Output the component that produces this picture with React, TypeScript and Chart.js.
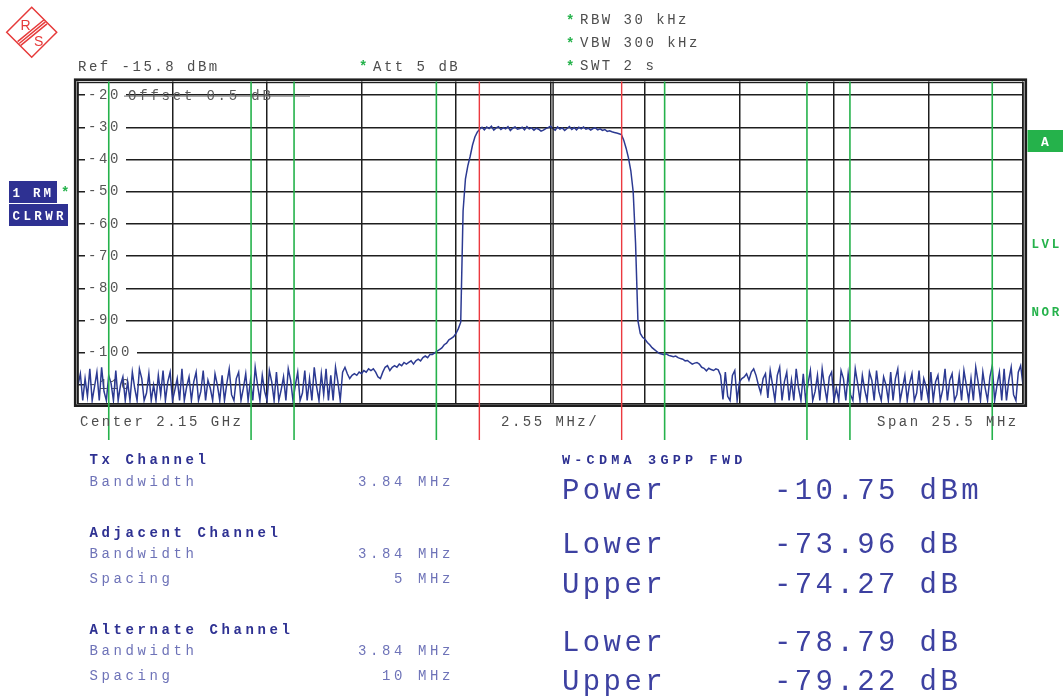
import React, { useEffect, useRef } from "react";
import { Chart, registerables } from "chart.js";

Chart.register(...registerables);

// ---- instrument settings ----
const CENTER_GHZ = 2.15;
const SPAN_MHZ = 25.5;
const REF_LEVEL_DBM = -15.8;
const RANGE_DB = 100;
const OFFSET_DB = 0.5;
const ATT_DB = 5;
const RBW_KHZ = 30;
const VBW_KHZ = 300;
const SWT_S = 2;

// ---- grid ----
const yGridLevels = [-20, -30, -40, -50, -60, -70, -80, -90, -100, -110];
const xGridOffsetsMHz = [-12.75, -10.2, -7.65, -5.1, -2.55, 0, 2.55, 5.1, 7.65, 10.2, 12.75];

// ---- channel table ----
const txBandwidthMHz = 3.84;
const adjSpacingMHz = 5;
const altSpacingMHz = 10;

// ---- results ----
const resultLabels = ["Power", "Lower", "Upper", "Lower", "Upper"];
const resultValues = ["-10.75 dBm", "-73.96 dB", "-74.27 dB", "-78.79 dB", "-79.22 dB"];

// ---- trace (dBm), 401 sweep points over the span, in five segments ----
const noiseLow = [
  -110, -106.5, -114.8, -108, -113.5, -105, -114.8, -110.5, -106, -114.8,
  -104.5, -112, -114.8, -107, -109.5, -114.8, -105.5, -114.8, -110, -107.5,
  -114.8, -109, -114.8, -106, -111, -114.8, -105, -108, -114.8, -112.5,
  -106.5, -114.8, -110, -114.8, -107, -113, -105.5, -114.8, -109, -106,
  -114.8, -111.5, -108, -114.8, -105, -114.8, -110.5, -107.5, -114.8, -109,
  -106, -114.8, -112, -105.5, -114.8, -108.5, -111, -114.8, -106.5, -110,
  -114.8, -107, -114.8, -109.5, -105, -113, -114.8, -108, -106, -114.8,
  -111, -106.5, -114.8, -108.5, -114.8, -104.5, -110, -114.8, -107, -112,
  -114.8, -105.5, -109, -114.8, -106, -114.8, -111.5, -107.5, -114.8, -105,
  -108.5, -114.8, -110, -106, -114.8, -112.5, -105.5, -114.8, -108, -114.8,
  -104.5, -110.5, -114.8, -106.5, -113, -105, -114.8, -107, -114.8, -104.5,
  -109, -114.8, -106,
];
const skirtLow = [
  -104.5, -106.5, -108, -107, -106.5, -107, -106, -106.5, -105.5, -106,
  -105, -105.5, -105, -106, -107.5, -108, -106, -104.5, -104, -105.5,
  -104.5, -104, -104.5, -103.5, -104, -103, -103.5, -103, -102.5, -103.5,
  -102.5, -102, -102.5, -101.5, -101, -101.5, -100.5, -100.5, -100, -99.5,
  -99, -98.5, -97.5, -97, -96, -95.5, -95, -94, -92.5, -90.5,
  -56, -46, -42, -39, -35.5, -33, -31.5,
];
const channelTop = [
  -30.6, -30.0, -30.8, -29.9, -30.4, -29.7, -30.9, -30.2, -29.8, -30.7,
  -30.1, -30.5, -29.8, -31.0, -30.3, -29.9, -30.6, -30.4, -30.0, -30.8,
  -29.8, -30.5, -30.2, -30.9, -30.3, -30.6, -31.2, -30.9, -30.4, -30.1,
  -29.7, -30.4, -30.9, -29.9, -30.6, -30.2, -31.0, -30.4, -29.8, -30.7,
  -30.1, -30.8, -30.0, -30.5, -29.9, -30.6, -30.3, -30.9, -30.4, -30.2,
  -30.8, -30.5, -31.0, -30.7, -31.3, -31.1, -31.4, -31.6, -31.8, -32.0,
];
const skirtHigh = [
  -32.3, -34, -36.5, -39.5, -43.5, -50, -66, -90, -94, -95.2,
  -95.8, -96.8, -97.5, -98.4, -99, -99.6, -100.2, -100.4, -100.6, -100.3,
  -100.8, -101, -101.2, -101, -101.5, -101.8, -102, -102.5, -102.4, -103,
  -103.5, -103.2, -103, -103.5, -104.5, -104.8, -105.6, -104.8, -105.2, -105.5,
  -105, -105.3, -107,
];
const noiseHigh = [
  -114.5, -106, -113.5, -114.8, -107, -105.5, -114.8, -109, -108, -107.5,
  -106.5, -108.5, -106, -105, -107, -110, -112.5, -108, -106.5, -114,
  -105.5, -110, -114.8, -107, -104.5, -114.8, -109, -106, -114.8, -108.5,
  -114.8, -105, -111, -114.8, -106.5, -114.8, -109.5, -105.5, -114.8, -112,
  -107, -114.8, -105, -110.5, -114.8, -107.5, -106, -114.8, -111, -114.8,
  -105.5, -108, -114.8, -106.5, -113, -114.8, -105, -109.5, -114.8, -107,
  -111.5, -114.8, -106, -108.5, -114.8, -105.5, -112, -114.8, -107.5, -110,
  -114.8, -106, -114.8, -108, -105, -114.8, -111, -107, -114.8, -109.5,
  -106.5, -114.8, -112.5, -105.5, -114.8, -108, -110.5, -114.8, -106, -114.8,
  -109, -107, -114.8, -111.5, -105, -114.8, -108.5, -106.5, -114.8, -113,
  -107, -114.8, -105.5, -110, -114.8, -108, -114.8, -104.5, -109, -114.8,
  -106, -111, -114.8, -107.5, -104, -114.8, -110, -106, -114.8, -105,
  -114.8, -108.5, -104.5, -113, -114.8, -106, -104, -110,
];

const MONO = '"Liberation Mono", "DejaVu Sans Mono", monospace';
const GRID = "#1e1e1e";
const GREEN = "#25b24b";
const RED = "#ec3a3f";
const TRACE = "#2c3a92";
const NAVY = "#2e3192";

const rsPlugin = {
  id: "rsDisplay",
  beforeUpdate(chart: any) {
    chart.ctx.letterSpacing = "2.6px";
  },
  beforeDraw(chart: any) {
    chart.ctx.letterSpacing = "2.6px";
  },
  afterDraw(chart: any) {
    const { ctx, chartArea: a, scales } = chart;
    const xs = scales.x;
    const ys = scales.y;
    ctx.save();
    ctx.letterSpacing = "0px";
    // center double line
    const xc = xs.getPixelForValue(0);
    ctx.strokeStyle = GRID;
    ctx.lineWidth = 1.4;
    ctx.beginPath();
    ctx.moveTo(xc + 2.6, a.top);
    ctx.lineTo(xc + 2.6, a.bottom);
    ctx.stroke();
    // offset display line near top
    const yOff = ys.getPixelForValue(-20) + 1;
    ctx.strokeStyle = "#8c8c8c";
    ctx.lineWidth = 1.2;
    ctx.beginPath();
    ctx.moveTo(124, yOff);
    ctx.lineTo(310, yOff);
    ctx.stroke();
    // frame
    ctx.strokeStyle = GRID;
    ctx.lineWidth = 1.4;
    ctx.strokeRect(a.left, a.top + 1, a.right - a.left, a.bottom - a.top - 1);
    ctx.lineWidth = 2.6;
    ctx.strokeRect(a.left - 2.8, a.top - 1.8, a.right - a.left + 5.6, a.bottom - a.top + 3.8);
    // channel limit lines
    const half = txBandwidthMHz / 2;
    const greens: number[] = [];
    [adjSpacingMHz, altSpacingMHz].forEach((s) => {
      [-1, 1].forEach((sg) => {
        greens.push(sg * s - half, sg * s + half);
      });
    });
    const drawV = (f: number, color: string, w: number) => {
      const x = xs.getPixelForValue(f);
      ctx.strokeStyle = color;
      ctx.lineWidth = w;
      ctx.beginPath();
      ctx.moveTo(x, a.top);
      ctx.lineTo(x, 440);
      ctx.stroke();
    };
    greens.forEach((f) => drawV(f, GREEN, 1.6));
    [-half, half].forEach((f) => drawV(f, RED, 1.4));
    ctx.restore();
  },
};

function Overlay() {
  const hdr = { fontSize: 14, fill: "#4d4d4d", letterSpacing: 2.5 } as const;
  const star = { fontSize: 14, fill: GREEN, fontWeight: 700 } as const;
  const head = { fontSize: 14, fill: NAVY, fontWeight: 700, letterSpacing: 3.6 } as const;
  const sub = { fontSize: 14, fill: "#6e73b8", letterSpacing: 3.6 } as const;
  const big = { fontSize: 29, fill: "#3d41a1", letterSpacing: 3.4 } as const;
  const resultBaselines = [499, 553, 593, 651, 690];
  return (
    <svg
      width={1063}
      height={696}
      style={{ position: "absolute", left: 0, top: 0, pointerEvents: "none" }}
      fontFamily={MONO}
    >
      {/* R&S logo */}
      <g stroke="#e63a3a" fill="none" strokeWidth={1.5}>
        <polygon points="31.7,7.3 56.7,32.3 31.7,57.3 6.7,32.3" />
        <line x1={47} y1={23.8} x2={20.8} y2={45.4} />
        <line x1={45.4} y1={21.9} x2={19.2} y2={43.5} />
        <line x1={43.8} y1={20} x2={17.6} y2={41.6} />
      </g>
      <text x={20.5} y={29.5} fontSize={14} fill="#e63a3a" fontFamily='"Liberation Sans", sans-serif'>R</text>
      <text x={34} y={46} fontSize={14} fill="#e63a3a" fontFamily='"Liberation Sans", sans-serif'>S</text>

      {/* header */}
      <text x={78} y={70.5} {...hdr}>{`Ref ${REF_LEVEL_DBM} dBm`}</text>
      <text x={359} y={71} {...star}>*</text>
      <text x={373} y={70.5} {...hdr}>{`Att  ${ATT_DB} dB`}</text>
      <text x={566} y={24.5} {...star}>*</text>
      <text x={580} y={24} {...hdr}>{`RBW ${RBW_KHZ} kHz`}</text>
      <text x={566} y={47.5} {...star}>*</text>
      <text x={580} y={47} {...hdr}>{`VBW ${VBW_KHZ} kHz`}</text>
      <text x={566} y={70.5} {...star}>*</text>
      <text x={580} y={70} {...hdr}>{`SWT ${SWT_S} s`}</text>
      <text x={128} y={100} fontSize={14} fill="#5a5a5a" letterSpacing={2.8}>{`Offset  ${OFFSET_DB} dB`}</text>

      {/* trace info boxes */}
      <rect x={9} y={181} width={48} height={22} fill={NAVY} />
      <text x={12.5} y={196.5} fontSize={12.5} fontWeight={700} fill="#fff" letterSpacing={2.8}>1 RM</text>
      <text x={61} y={197} {...star}>*</text>
      <rect x={9} y={204} width={59} height={22} fill={NAVY} />
      <text x={12.5} y={219.5} fontSize={12.5} fontWeight={700} fill="#fff" letterSpacing={3.4}>CLRWR</text>
      <rect x={1027.5} y={130} width={36} height={22} fill={GREEN} />
      <text x={1041} y={146} fontSize={13} fontWeight={700} fill="#fff">A</text>
      <text x={1031.5} y={248} fontSize={12.5} fontWeight={700} fill={GREEN} letterSpacing={2.6}>LVL</text>
      <text x={1031.5} y={316} fontSize={12.5} fontWeight={700} fill={GREEN} letterSpacing={2.6}>NOR</text>

      {/* x axis annotations */}
      <text x={80} y={425.5} {...hdr}>{`Center ${CENTER_GHZ} GHz`}</text>
      <text x={501} y={425.5} {...hdr}>{`${(SPAN_MHZ / 10).toFixed(2)} MHz/`}</text>
      <text x={877} y={425.5} {...hdr}>{`Span ${SPAN_MHZ} MHz`}</text>

      {/* channel table */}
      <text x={89.5} y={463.5} {...head}>Tx Channel</text>
      <text x={89.5} y={486} {...sub}>Bandwidth</text>
      <text x={454} y={486} textAnchor="end" {...sub}>{`${txBandwidthMHz} MHz`}</text>

      <text x={89.5} y={537} {...head}>Adjacent Channel</text>
      <text x={89.5} y={558} {...sub}>Bandwidth</text>
      <text x={454} y={558} textAnchor="end" {...sub}>{`${txBandwidthMHz} MHz`}</text>
      <text x={89.5} y={583} {...sub}>Spacing</text>
      <text x={454} y={583} textAnchor="end" {...sub}>{`${adjSpacingMHz} MHz`}</text>

      <text x={89.5} y={633.5} {...head}>Alternate Channel</text>
      <text x={89.5} y={655} {...sub}>Bandwidth</text>
      <text x={454} y={655} textAnchor="end" {...sub}>{`${txBandwidthMHz} MHz`}</text>
      <text x={89.5} y={680} {...sub}>Spacing</text>
      <text x={454} y={680} textAnchor="end" {...sub}>{`${altSpacingMHz} MHz`}</text>

      {/* results */}
      <text x={562} y={463.5} fontSize={13.5} fontWeight={700} fill={NAVY} letterSpacing={4.2}>W-CDMA 3GPP FWD</text>
      {resultLabels.map((l, i) => (
        <g key={i}>
          <text x={562} y={resultBaselines[i]} {...big}>{l}</text>
          <text x={774} y={resultBaselines[i]} {...big}>{resultValues[i]}</text>
        </g>
      ))}
    </svg>
  );
}

export default function App() {
  const ref = useRef<HTMLCanvasElement>(null);
  useEffect(() => {
    const canvas = ref.current;
    if (!canvas) return;
    const levels = [...noiseLow, ...skirtLow, ...channelTop, ...skirtHigh, ...noiseHigh];
    const start = -SPAN_MHZ / 2;
    const step = SPAN_MHZ / (levels.length - 1);
    const points = levels.map((y, i) => ({ x: start + i * step, y }));
    const chart = new Chart(canvas, {
      type: "line",
      data: {
        datasets: [
          {
            data: points,
            borderColor: TRACE,
            borderWidth: 1.5,
            pointRadius: 0,
            tension: 0,
            fill: false,
          },
        ],
      },
      options: {
        responsive: false,
        animation: false,
        events: [],
        layout: { padding: { left: 78, right: 40, top: 81.5, bottom: 292.3 } },
        plugins: { legend: { display: false }, tooltip: { enabled: false } },
        scales: {
          x: {
            type: "linear",
            min: -SPAN_MHZ / 2,
            max: SPAN_MHZ / 2,
            afterBuildTicks: (s: any) => {
              s.ticks = xGridOffsetsMHz.map((v) => ({ value: v }));
            },
            afterFit: (s: any) => {
              s.height = 0;
            },
            ticks: { display: false },
            grid: { color: GRID, lineWidth: 1.5, drawTicks: false },
            border: { display: false },
          },
          y: {
            type: "linear",
            min: REF_LEVEL_DBM - RANGE_DB,
            max: REF_LEVEL_DBM,
            afterBuildTicks: (s: any) => {
              s.ticks = yGridLevels.map((v) => ({ value: v }));
            },
            afterFit: (s: any) => {
              s.width = 0;
            },
            ticks: {
              mirror: true,
              padding: 10,
              autoSkip: false,
              color: "#555",
              font: { family: MONO, size: 14 },
              showLabelBackdrop: true,
              backdropColor: "#ffffff",
              backdropPadding: { left: 3, right: 5, top: 1, bottom: 1 },
              callback: (v: any) => `${v}`,
            },
            grid: { color: GRID, lineWidth: 1.5, drawTicks: false },
            border: { display: false },
          },
        },
      } as any,
      plugins: [rsPlugin],
    });
    return () => chart.destroy();
  }, []);

  return (
    <div
      style={{
        position: "fixed",
        left: 0,
        top: 0,
        width: 1063,
        height: 696,
        background: "#fff",
        overflow: "hidden",
      }}
    >
      <canvas ref={ref} width={1063} height={696} style={{ position: "absolute", left: 0, top: 0 }} />
      <Overlay />
    </div>
  );
}
